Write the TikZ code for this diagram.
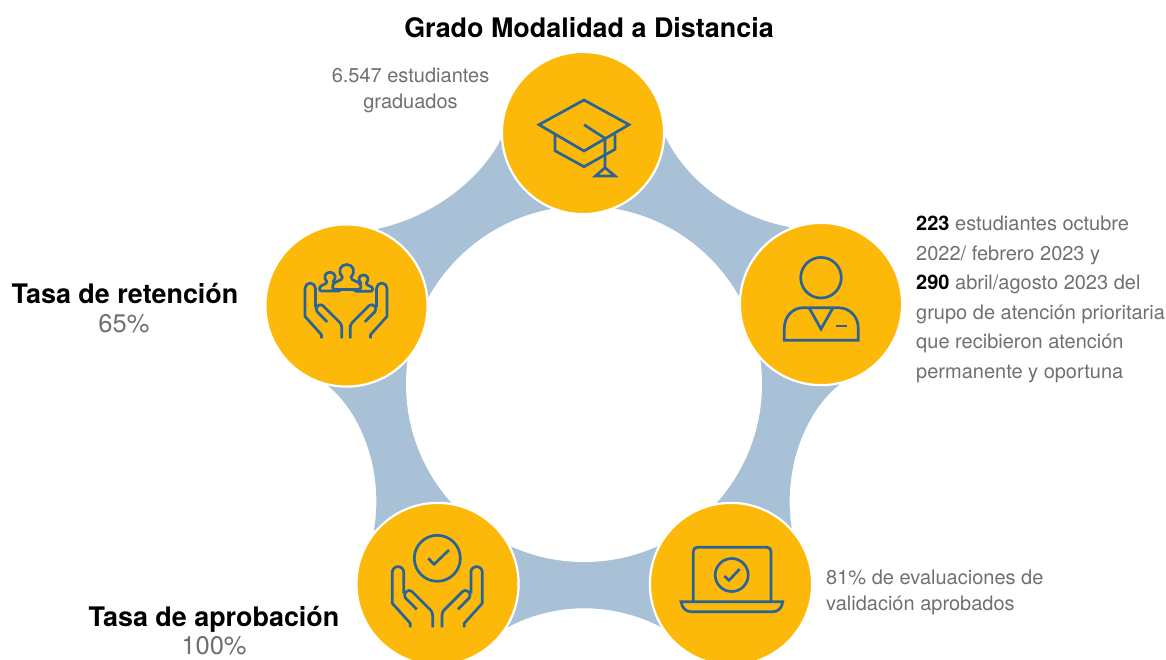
\documentclass[tikz,border=0pt]{standalone}
\usepackage{fontspec}
\setmainfont{TeX Gyre Heros}
\definecolor{ringblue}{HTML}{A8C1D6}
\definecolor{gold}{HTML}{FDB909}
\definecolor{iconblue}{HTML}{2A6496}
\definecolor{txtgray}{HTML}{707070}
\tikzset{
  disc/.style={circle,fill=gold,draw=white,line width=2.2pt,minimum size=162.2pt,inner sep=0pt},
  icon/.style={draw=iconblue,line width=2.7pt,line join=miter},
  iconr/.style={draw=iconblue,line width=2.7pt,line join=round,fill=gold},
  titletext/.style={font=\fontsize{26.9}{30}\selectfont\bfseries,text=black,inner sep=0pt},
  bodytext/.style={font=\fontsize{20}{24}\selectfont,text=txtgray,inner sep=0pt},
  pcttext/.style={font=\fontsize{25.5}{30}\selectfont,text=txtgray,inner sep=0pt},
}
\newcommand{\bk}[1]{\textcolor{black}{\textbf{#1}}}
% one open hand, axis at x=0, wrist line at y=0
\newcommand{\openhand}{%
  \draw[icon,line join=round] (-27,0) -- (-27,-4) -- (-45,-24) -- (-45,-55)
    arc[start angle=180,end angle=360,radius=5.7] -- (-33.6,-34);
  \draw[icon,line join=round] (-20.6,-18) -- (-32,-29.5)
    .. controls (-35,-34) and (-29,-39) .. (-25.5,-36)
    -- (-6.5,-17) .. controls (-5,-15) and (-4.6,-13) .. (-4.6,-11) -- (-4.6,0);
}
\newcommand{\handpair}[3]{%
  \begin{scope}[shift={(#1,#2)},scale=#3]\openhand\end{scope}
  \begin{scope}[shift={(#1,#2)},xscale=-#3,yscale=#3]\openhand\end{scope}
}
\newcommand{\bust}[3]{%
  \draw[iconr,shift={(#1,#2)},scale=#3]
    (-4.2,5.5) .. controls (-9.5,0) and (-6.5,-7) .. (0,-7)
    .. controls (6.5,-7) and (9.5,0) .. (4.2,5.5)
    .. controls (4,10) and (13,9) .. (14,14)
    .. controls (14.5,17.5) and (13,18) .. (11,18) -- (-11,18)
    .. controls (-13,18) and (-14.5,17.5) .. (-14,14)
    .. controls (-13,9) and (-4,10) .. (-4.2,5.5) -- cycle;
}
\begin{document}
\begin{tikzpicture}[x=1pt,y=-1pt]
\useasboundingbox (0,0) rectangle (1166,659);
\clip (0,0) rectangle (1166,659);
\coordinate (ct) at (583,133);
\coordinate (cr) at (821,304);
\coordinate (cbr) at (731,584);
\coordinate (cbl) at (437.5,584);
\coordinate (cl) at (346.5,305.5);
% blue ring
\fill[ringblue] (ct) -- (666,138)
  .. controls (682,172) and (725,215) .. (789,227) -- (cr)
  -- (839,385) .. controls (805,412) and (782,470) .. (792,530) -- (cbr)
  -- (661,627) .. controls (612,602) and (556,602) .. (508,627) -- (cbl)
  -- (374,530) .. controls (384,470) and (361,412) .. (327,385) -- (cl)
  -- (377,229) .. controls (441,215) and (485,172) .. (501,139) -- cycle;
\fill[white] (584,384) circle[radius=178];
% discs
\node[disc] (top) at (ct) {};
\node[disc] (right) at (cr) {};
\node[disc] (bright) at (cbr) {};
\node[disc] (bleft) at (cbl) {};
\node[disc] (left) at (cl) {};
% graduation cap
\draw[icon] (539,124.7) -- (584,100) -- (629,124.7) -- (584,151) -- cycle;
\draw[icon] (584,124.7) -- (605,138.3) -- (605,168);
\draw[icon] (605,167.7) -- (595.5,176) -- (615,176) -- cycle;
\draw[icon] (555,134.3) -- (555,150.7) -- (584,166.7) -- (615,149.3) -- (615,134.3);
% person
\draw[icon] (821,277.7) circle[radius=20.3];
\draw[icon] (784.3,340.3) -- (858.3,340.3) -- (858.3,328.3)
  .. controls (858.3,316) and (849,307.7) .. (838.3,307.7) -- (803.3,307.7)
  .. controls (793,307.7) and (784.3,316) .. (784.3,328.3) -- cycle;
\draw[icon] (809,307.7) -- (821,329) -- (833,307.7);
\draw[icon] (835.7,326) -- (847,326);
% people in hands
\handpair{346}{338.3}{0.91}
\bust{330}{277.5}{0.75}
\bust{363.5}{279.5}{0.65}
\bust{346.7}{271.5}{1}
% check in hands
\handpair{437.3}{627.3}{1}
\draw[icon] (437.3,558.3) circle[radius=23];
\draw[icon] (428.3,558.3) -- (434,564.3) -- (449,550);
% laptop
\draw[icon,rounded corners=4pt] (693.3,601) -- (693.3,547.3) -- (771,547.3) -- (771,601);
\draw[icon] (681,601.7) -- (782.7,601.7) .. controls (782,608) and (778,611.7) .. (773,611.7)
  -- (691,611.7) .. controls (686,611.7) and (682,608) .. (681,601.7) -- cycle;
\draw[icon] (731.7,575) circle[radius=16.5];
\draw[icon] (724.3,576) -- (729,580.3) -- (739.7,569);
% texts
\node[titletext,anchor=base] (t1) at (589,37) {Grado Modalidad a Distancia};
\node[bodytext,anchor=base] (g1) at (410.5,82) {6.547 estudiantes};
\node[bodytext,anchor=base] (g2) at (410.5,108) {graduados};
\node[bodytext,anchor=base west] (r1) at (916,230.5) {\bk{223} estudiantes octubre};
\node[bodytext,anchor=base west] (r2) at (916,260) {2022/ febrero 2023 y};
\node[bodytext,anchor=base west] (r3) at (916,289.5) {\bk{290} abril/agosto 2023 del};
\node[bodytext,anchor=base west] (r4) at (916,319) {grupo de atención prioritaria};
\node[bodytext,anchor=base west] (r5) at (916,348.5) {que recibieron atención};
\node[bodytext,anchor=base west] (r6) at (916,378) {permanente y oportuna};
\node[titletext,anchor=base] (l1) at (125,303.5) {Tasa de retención};
\node[pcttext,anchor=base] (l2) at (124,332) {65\%};
\node[titletext,anchor=base] (a1) at (214,626) {Tasa de aprobación};
\node[pcttext,anchor=base] (a2) at (214,654.5) {100\%};
\node[bodytext,anchor=base west] (e1) at (826,584) {81\% de evaluaciones de};
\node[bodytext,anchor=base west] (e2) at (826,610) {validación aprobados};
\end{tikzpicture}
\end{document}
